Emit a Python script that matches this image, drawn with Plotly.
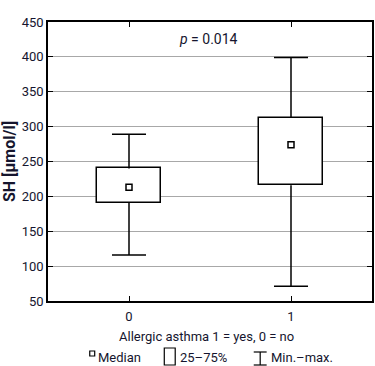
import plotly.graph_objects as go

groups = [0, 1]
q1 = [191, 216]
q3 = [240, 313]
medians = [213, 274]
mins = [116, 71]
maxs = [289, 399]

tick_vals_y = [50, 100, 150, 200, 250, 300, 350, 400, 450]
x_title = "Allergic asthma 1 = yes, 0 = no"
y_title = "SH [μmol/l]"
p_text = "<i>p</i> = 0.014"

FONT = "Roboto, sans-serif"
TXT = "#15152e"
CAP = 0.105  # whisker cap half-width in x units

fig = go.Figure()

# boxes (25-75%)
fig.add_trace(go.Bar(
    x=groups, y=[b - a for a, b in zip(q1, q3)], base=q1, width=0.4,
    marker=dict(color="white", line=dict(color="black", width=1.5)),
    showlegend=False, hoverinfo="skip"))

# whiskers built from the data arrays
wx, wy = [], []
for g, lo, a, b, hi in zip(groups, mins, q1, q3, maxs):
    wx += [g, g, None, g - CAP, g + CAP, None, g, g, None, g - CAP, g + CAP, None]
    wy += [b, hi, None, hi, hi, None, a, lo, None, lo, lo, None]
fig.add_trace(go.Scatter(x=wx, y=wy, mode="lines", line=dict(color="black", width=1.5),
                         showlegend=False, hoverinfo="skip"))

# medians
fig.add_trace(go.Scatter(
    x=groups, y=medians, mode="markers",
    marker=dict(symbol="square-open", size=6, color="black", line=dict(width=1.5)),
    showlegend=False, hoverinfo="skip"))

fig.update_layout(
    width=375, height=366,
    margin=dict(l=48, r=1, t=22, b=65),
    paper_bgcolor="white", plot_bgcolor="white",
    font=dict(family=FONT, size=13, color=TXT),
    xaxis=dict(range=[-0.5, 1.5], tickvals=groups, ticktext=[str(g) for g in groups],
               showgrid=False, zeroline=False, showline=True, linecolor="black", linewidth=1.5,
               mirror="ticks", ticks="inside", ticklen=5, tickcolor="black", tickwidth=1.2,
               ticklabelstandoff=3),
    yaxis=dict(range=[50, 450], tickvals=tick_vals_y, showgrid=True, gridcolor="#a8a8a8",
               gridwidth=1, zeroline=False, showline=True, linecolor="black", linewidth=1.5,
               mirror="ticks", ticks="inside", ticklen=5, tickcolor="black", tickwidth=1.2,
               title=dict(text="<b>" + y_title + "</b>", standoff=10)),
    bargap=0,
)

fig.add_annotation(x=0.49, y=426, xref="x", yref="y", text=p_text, showarrow=False,
                   font=dict(size=14, color=TXT))

# legend and x title (drawn in paper coordinates)
def px(x):
    return (x - 48) / 326.0

def py(y):
    return (301 - y) / 279.0

fig.add_annotation(x=px(207.5), y=py(336), xref="paper", yref="paper", text=x_title,
                   showarrow=False, xanchor="center", yanchor="middle",
                   font=dict(size=13, color=TXT))

shapes = [
    dict(type="rect", xref="paper", yref="paper", x0=px(90), x1=px(95), y0=py(356), y1=py(351),
         line=dict(color="black", width=1.2), fillcolor="white"),
    dict(type="rect", xref="paper", yref="paper", x0=px(165), x1=px(176), y0=py(365), y1=py(348),
         line=dict(color="black", width=1.2), fillcolor="white"),
    dict(type="line", xref="paper", yref="paper", x0=px(261.5), x1=px(261.5), y0=py(365), y1=py(352),
         line=dict(color="black", width=1.2)),
    dict(type="line", xref="paper", yref="paper", x0=px(255), x1=px(268), y0=py(352), y1=py(352),
         line=dict(color="black", width=1.2)),
    dict(type="line", xref="paper", yref="paper", x0=px(255), x1=px(268), y0=py(365), y1=py(365),
         line=dict(color="black", width=1.2)),
]
for s in shapes:
    fig.add_shape(**s)

for x0, t in [(96, "Median"), (179, "25–75%"), (270, "Min.–max.")]:
    fig.add_annotation(x=px(x0), y=py(357), xref="paper", yref="paper", text=t,
                       showarrow=False, xanchor="left", yanchor="middle",
                       font=dict(size=13, color=TXT))

fig.write_html("out.html")
